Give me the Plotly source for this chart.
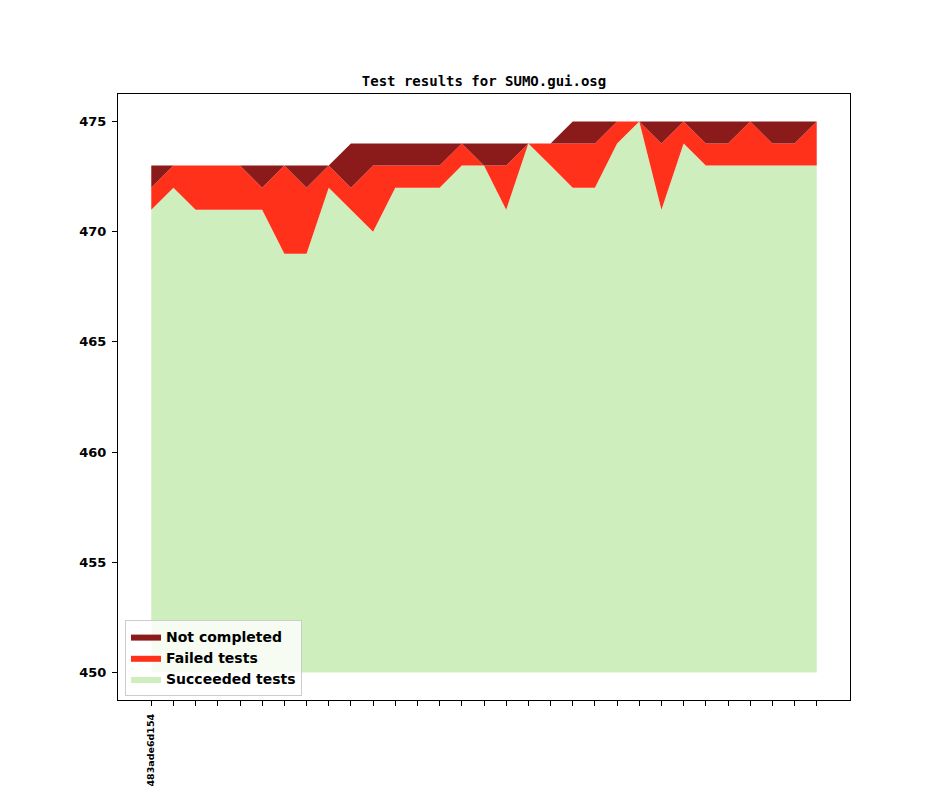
import numpy as np
import plotly.graph_objects as go

# --- data -------------------------------------------------------------
commits = ["483ade6d154"] + [""] * 30
succeeded = [471, 472, 471, 471, 471, 471, 469, 469, 472, 471, 470, 472, 472, 472, 473, 473,
             471, 474, 473, 472, 472, 474, 475, 471, 474, 473, 473, 473, 473, 473, 473]
failed = [1, 1, 2, 2, 2, 1, 4, 3, 1, 1, 3, 1, 1, 1, 1, 0,
          2, 0, 1, 2, 2, 1, 0, 3, 1, 1, 1, 2, 1, 1, 2]
not_completed = [1, 0, 0, 0, 0, 1, 0, 1, 0, 2, 1, 1, 1, 1, 0, 1,
                 1, 0, 0, 1, 1, 0, 0, 1, 0, 1, 1, 0, 1, 1, 0]
baseline = 450
title = "Test results for SUMO.gui.osg"

# --- derived ------------------------------------------------------------
x = np.arange(len(commits))
s = np.array(succeeded)
sf = s + np.array(failed)
tot = sf + np.array(not_completed)

C_NC = "#8b1a1a"
C_FAIL = "#ff311a"
C_SUCC = "#cfeebe"

# page body has an 8px default margin; offset the figure so it lands where the reference is
OFF = 8
W, H = 944 - 2 * OFF, 787 - OFF

fig = go.Figure()
fig.add_trace(go.Scatter(x=x, y=np.full(len(x), baseline), mode="lines",
                         line=dict(width=0), showlegend=False, hoverinfo="skip"))
fig.add_trace(go.Scatter(x=x, y=s, mode="lines", fill="tonexty", fillcolor=C_SUCC,
                         line=dict(width=0, color=C_SUCC), name="Succeeded tests"))
fig.add_trace(go.Scatter(x=x, y=sf, mode="lines", fill="tonexty", fillcolor=C_FAIL,
                         line=dict(width=0, color=C_FAIL), name="Failed tests"))
fig.add_trace(go.Scatter(x=x, y=tot, mode="lines", fill="tonexty", fillcolor=C_NC,
                         line=dict(width=0, color=C_NC), name="Not completed"))

fig.update_layout(
    width=W, height=H, autosize=False,
    margin=dict(l=118 - OFF, r=944 - 850 - OFF, t=94 - OFF, b=787 - 700, autoexpand=False),
    paper_bgcolor="white", plot_bgcolor="white",
    font=dict(family="DejaVu Sans", color="black"),
    title=dict(text=title, x=0.5, xref="paper", xanchor="center",
               y=1 - (81 - OFF) / H, yref="container", yanchor="middle",
               font=dict(family="DejaVu Sans Mono", size=14, weight="bold", color="black")),
    showlegend=True,
    legend=dict(x=(125 - 118) / 732, y=(700 - 696) / 606, xanchor="left", yanchor="bottom",
                traceorder="reversed",
                bgcolor="rgba(255,255,255,0.8)", bordercolor="#cccccc", borderwidth=1,
                font=dict(size=14, weight="bold", family="DejaVu Sans"),
                itemwidth=30, tracegroupgap=0),
    xaxis=dict(range=[-1.5, len(x) - 1 + 1.5], tickmode="array", tickvals=x, ticktext=commits,
               tickangle=-90, ticks="outside", ticklen=5, tickwidth=1, tickcolor="black",
               ticklabelstandoff=4,
               showline=True, linecolor="black", linewidth=1, mirror=True,
               showgrid=False, zeroline=False, automargin=False,
               tickfont=dict(size=9.5, weight="bold", family="DejaVu Sans")),
    yaxis=dict(range=[448.75, 476.25], tickmode="array", tickvals=[450, 455, 460, 465, 470, 475],
               ticks="outside", ticklen=5, tickwidth=1, tickcolor="black",
               ticklabelstandoff=3,
               showline=True, linecolor="black", linewidth=1, mirror=True,
               showgrid=False, zeroline=False, automargin=False,
               tickfont=dict(size=13, weight="bold", family="DejaVu Sans")),
)

fig.write_html("out.html")
